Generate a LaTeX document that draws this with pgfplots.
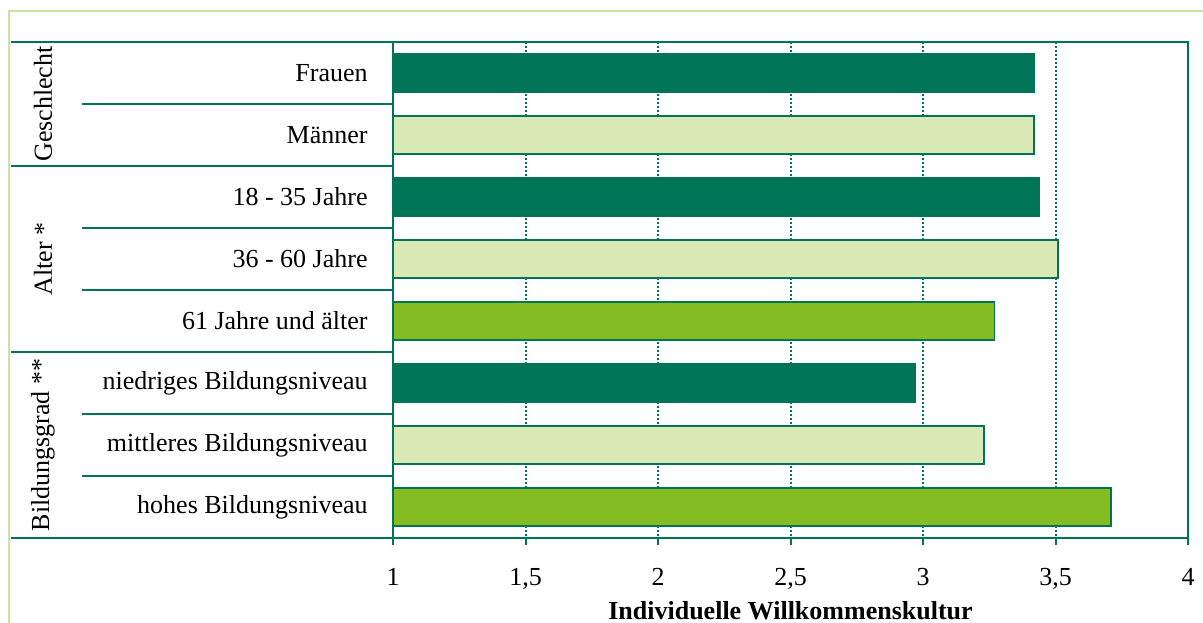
\documentclass[border=0pt]{standalone}
\usepackage{fontspec}
\setmainfont{Liberation Serif}
\usepackage{pgfplots}
\pgfplotsset{compat=1.18}
\definecolor{dgreen}{RGB}{0,116,86}
\definecolor{mgreen}{RGB}{133,188,34}
\definecolor{lgreen}{RGB}{217,234,183}
\definecolor{border}{RGB}{200,226,160}

\begin{document}
\begin{tikzpicture}[font=\fontsize{13}{15}\selectfont]
\begin{axis}[
  at={(196.5pt,-269pt)}, anchor=south west,
  scale only axis, width=397.5pt, height=248pt,
  xmin=1, xmax=4, ymin=-0.5, ymax=7.5, y dir=reverse,
  xbar, bar width=19pt, bar shift=0pt,
  axis line style={dgreen, line width=1pt},
  xtick={1,1.5,2,2.5,3,3.5,4},
  xticklabels={1,{1,5},2,{2,5},3,{3,5},4},
  ytick=\empty,
  xtick pos=bottom, tick align=outside,
  major tick length=3.5pt,
  tick style={dgreen, line width=1pt},
  xmajorgrids, grid style={dgreen, line width=1pt, densely dotted},
  xticklabel style={font=\fontsize{13}{15}\selectfont, yshift=-8pt},
  xlabel={\bfseries Individuelle Willkommenskultur},
  xlabel style={font=\fontsize{13}{15}\selectfont, at={(axis description cs:0.5,0)}, anchor=center, yshift=-36.5pt},
]
\addplot[fill=dgreen, draw=dgreen, line width=0.6pt] coordinates {(3.42,0) (3.44,2) (2.97,5)};
\addplot[fill=lgreen, draw=dgreen, line width=0.9pt] coordinates {(3.42,1) (3.51,3) (3.23,6)};
\addplot[fill=mgreen, draw=dgreen, line width=0.9pt] coordinates {(3.27,4) (3.71,7)};
\end{axis}

\begin{scope}[x=0.5pt,y=-0.5pt]
% outer frame (cut at the page edge)
\draw[border, line width=1pt] (9,640) -- (9,11) -- (1220,11);
% left table
\foreach \yy in {42,166,352,538} \draw[dgreen, line width=1pt] (11,\yy) -- (393,\yy);
\foreach \yy in {104,228,290,414,476} \draw[dgreen, line width=1pt] (82,\yy) -- (393,\yy);

\foreach \lab [count=\i from 0] in {Frauen, Männer, 18 - 35 Jahre\hspace{3pt}, 36 - 60 Jahre, 61 Jahre und älter, niedriges Bildungsniveau, mittleres Bildungsniveau, hohes Bildungsniveau}
  \node[anchor=east, inner sep=0pt] at (368,73+62*\i) {\lab};

\node[rotate=90, inner sep=0pt] at (43,104) {Geschlecht};
\node[rotate=90, inner sep=0pt] at (43,259) {Alter *};
\node[rotate=90, inner sep=0pt] at (43,445) {Bildungsgrad **};

\pgfresetboundingbox
\path[use as bounding box] (0,0) rectangle (1203,622);
\end{scope}
\end{tikzpicture}
\end{document}
